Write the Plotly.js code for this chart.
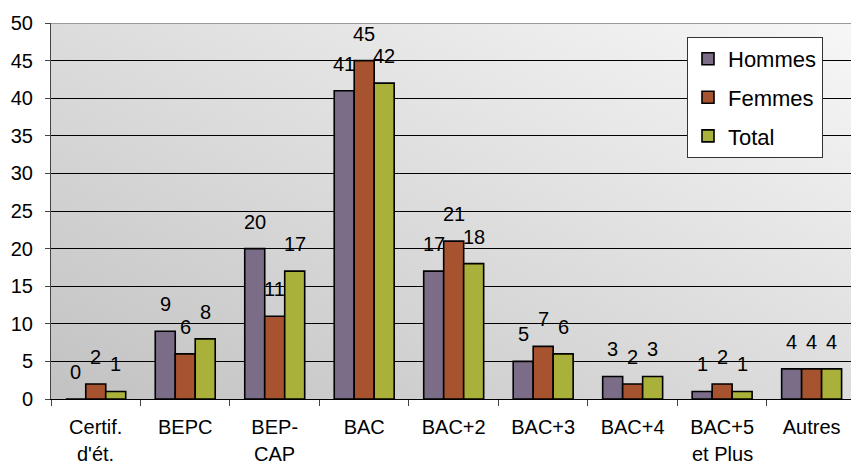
<!DOCTYPE html>
<html>
<head>
<meta charset="utf-8">
<script src="https://cdn.plot.ly/plotly-3.0.1.min.js"></script>
<style>html,body{margin:0;padding:0;background:#fff;}#chart{width:851px;height:467px;}</style>
</head>
<body>
<div id="chart"></div>
<script>
const categories = ["Certif.\nd'ét.", "BEPC", "BEP-\nCAP", "BAC", "BAC+2", "BAC+3", "BAC+4", "BAC+5\net Plus", "Autres"];
const hommes = [0, 9, 20, 41, 17, 5, 3, 1, 4];
const femmes = [2, 6, 11, 45, 21, 7, 2, 2, 4];
const total  = [1, 8, 17, 42, 18, 6, 3, 1, 4];
const seriesNames = ["Hommes", "Femmes", "Total"];
const seriesColors = ["#7b6c87", "#a8532f", "#a9b13a"];

const FONT = "Liberation Sans, Arial, sans-serif";
const line1 = categories.map(c => c.split("\n")[0]);
const line2 = categories.map(c => c.split("\n")[1] || "");
const values = [hommes, femmes, total];

const traces = values.map((v, i) => ({
  type: "bar",
  name: seriesNames[i],
  legendgroup: "g" + i,
  x: line1,
  y: v,
  marker: {color: seriesColors[i], line: {color: "#000", width: 1.6}},
  hoverinfo: "skip"
}));

const annotations = [];
values.forEach((v, s) => {
  v.forEach((val, k) => {
    annotations.push({
      x: line1[k], y: val, xref: "x", yref: "y",
      text: String(val), showarrow: false,
      xshift: (s - 1) * 20, yshift: 27, yanchor: "middle",
      font: {family: FONT, size: 20, color: "#000"}
    });
  });
});
line2.forEach((t, k) => {
  if (!t) return;
  annotations.push({
    x: line1[k], y: 0, xref: "x", yref: "paper",
    text: t, showarrow: false, yanchor: "bottom", yshift: -67, borderpad: 0,
    font: {family: FONT, size: 20, color: "#000"}
  });
});

const svg = '<svg xmlns="http://www.w3.org/2000/svg" width="800" height="376" preserveAspectRatio="none">' +
  '<defs><linearGradient id="g" x1="0" y1="1" x2="1" y2="0">' +
  '<stop offset="0" stop-color="#c2c2c2"/><stop offset="1" stop-color="#f7f7f7"/>' +
  '</linearGradient></defs><rect width="800" height="376" fill="url(#g)"/></svg>';

const layout = {
  width: 851, height: 467,
  margin: {l: 51, r: 0, t: 23, b: 68, pad: 0},
  paper_bgcolor: "#ffffff",
  plot_bgcolor: "rgba(0,0,0,0)",
  font: {family: FONT, size: 20, color: "#000"},
  barmode: "group",
  bargap: 0.33,
  bargroupgap: 0,
  showlegend: true,
  legend: {
    x: 0.795, y: 0.963, xanchor: "left", yanchor: "top",
    bgcolor: "#ffffff", bordercolor: "#333", borderwidth: 1,
    font: {family: FONT, size: 22, color: "#000"},
    tracegroupgap: 7, traceorder: "grouped"
  },
  xaxis: {
    type: "category",
    range: [-0.5, 8.44],
    showline: true, linecolor: "#000", linewidth: 1,
    ticks: "outside", ticklen: 6, tickcolor: "#444", tickson: "boundaries",
    showgrid: false, zeroline: false,
    tickfont: {family: FONT, size: 20, color: "#000"},
    ticklabelstandoff: 10,
    fixedrange: true
  },
  yaxis: {
    range: [0, 50], dtick: 5, tick0: 0,
    showline: true, linecolor: "#444", linewidth: 1,
    ticks: "outside", ticklen: 5, tickcolor: "#444",
    showgrid: true, gridcolor: "#000", gridwidth: 1,
    zeroline: false,
    tickfont: {family: FONT, size: 20, color: "#000"},
    ticklabelstandoff: 8,
    fixedrange: true
  },
  images: [{
    source: "data:image/svg+xml;charset=utf-8," + encodeURIComponent(svg),
    xref: "paper", yref: "paper", x: 0, y: 1, sizex: 1, sizey: 1,
    xanchor: "left", yanchor: "top", sizing: "stretch", layer: "below"
  }],
  shapes: [{
    type: "line", xref: "paper", yref: "y", x0: 0, x1: 1, y0: 50, y1: 50,
    line: {color: "#9a9a9a", width: 2}, layer: "above"
  }],
  annotations: annotations
};

Plotly.newPlot("chart", traces, layout, {displayModeBar: false, staticPlot: true});
</script>
</body>
</html>
